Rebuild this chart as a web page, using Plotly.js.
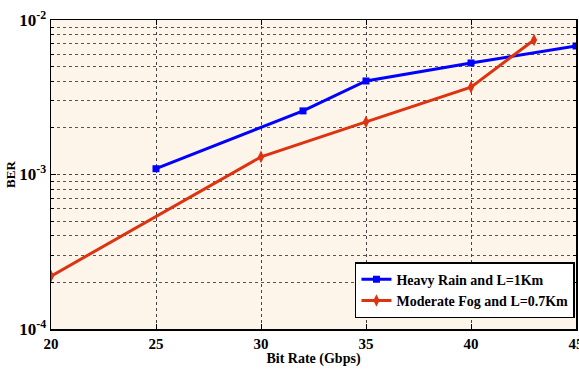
<!DOCTYPE html>
<html><head><meta charset="utf-8">
<script src="https://cdn.plot.ly/plotly-3.0.1.min.js"></script>
<style>html,body{margin:0;padding:0;background:#fff}</style>
</head><body><div id="chart" style="width:579px;height:369px"></div>
<script>
const rainX = [25, 32, 35, 40, 45];
const rainBER = [1.09e-3, 2.58e-3, 4.03e-3, 5.27e-3, 6.79e-3];
const fogX = [20, 30, 35, 40, 43];
const fogBER = [2.2e-4, 1.3e-3, 2.19e-3, 3.68e-3, 7.42e-3];
const xTicks = [20, 25, 30, 35, 40, 45];
const yTickVals = [1e-4, 1e-3, 1e-2];
const yTickText = ['10<sup>-4</sup>', '10<sup>-3</sup>', '10<sup>-2</sup>'];
const seriesNames = ['Heavy Rain and L=1Km', 'Moderate Fog and L=0.7Km'];

const f = (size) => ({family: 'Liberation Serif', size: size, color: '#000', weight: 700});
const traces = [
  {x: rainX, y: rainBER, name: seriesNames[0], mode: 'lines+markers',
   line: {color: '#0000ff', width: 3}, marker: {symbol: 'square', size: 7, color: '#0000ff'}},
  {x: fogX, y: fogBER, name: seriesNames[1], mode: 'lines+markers',
   line: {color: '#dd3311', width: 3}, marker: {symbol: 'diamond-tall', size: 9, color: '#dd3311'}}
];
const layout = {
  width: 579, height: 369,
  margin: {l: 51, r: 3, t: 20, b: 40},
  paper_bgcolor: '#ffffff', plot_bgcolor: '#fdf5ea',
  font: f(14),
  showlegend: true,
  legend: {x: 0.998, y: 0.035, xanchor: 'right', yanchor: 'bottom', bgcolor: '#ffffff',
    bordercolor: '#000', borderwidth: 1.5, font: f(14),
    itemwidth: 30, tracegroupgap: 2},
  xaxis: {range: [20, 45], tickvals: xTicks, ticktext: xTicks.map(String),
    ticklabeloverflow: 'allow',
    showline: true, linecolor: '#000', linewidth: 1.5, mirror: 'allticks', ticks: 'inside', ticklen: 5,
    tickcolor: '#000', showgrid: true, gridcolor: '#444', griddash: 'dot', gridwidth: 1, zeroline: false,
    tickfont: f(15),
    title: {text: 'Bit Rate (Gbps)', font: f(14), standoff: 1}},
  yaxis: {type: 'log', range: [-4, -2], tickvals: yTickVals, ticktext: yTickText,
    ticklabeloverflow: 'allow',
    showline: true, linecolor: '#000', linewidth: 1.5, mirror: 'allticks', ticks: 'inside', ticklen: 5,
    tickcolor: '#000', showgrid: true, gridcolor: '#444', griddash: 'dot', gridwidth: 1, zeroline: false,
    minor: {dtick: 'D1', showgrid: true, gridcolor: '#555', griddash: 'dot', gridwidth: 1, ticks: 'inside', ticklen: 3, tickcolor: '#000'},
    tickfont: f(17),
    title: {text: 'BER', font: f(13), standoff: 0}}
};
Plotly.newPlot('chart', traces, layout, {displayModeBar: false, staticPlot: true});
</script></body></html>
